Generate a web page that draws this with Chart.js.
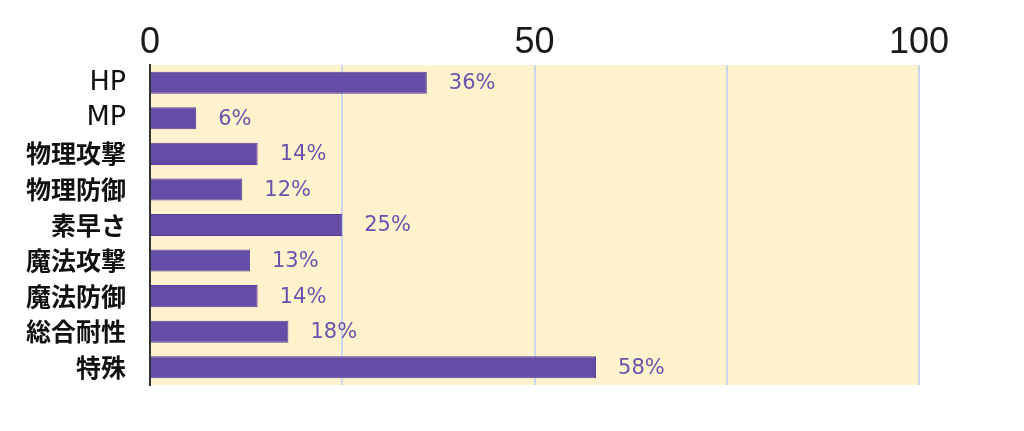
<!DOCTYPE html>
<html>
<head>
<meta charset="utf-8">
<script src="https://cdn.jsdelivr.net/npm/chart.js@4"></script>
<style>
  html, body { margin: 0; padding: 0; background: #ffffff; }
  #wrap { width: 1024px; height: 431px; }
</style>
</head>
<body>
<div id="wrap"><canvas id="myChart" width="1024" height="431"></canvas></div>
<script>
const categories = ['HP', 'MP', '物理攻撃', '物理防御', '素早さ', '魔法攻撃', '魔法防御', '総合耐性', '特殊'];
const percentValues = [36, 6, 14, 12, 25, 13, 14, 18, 58];
const tickLabels = ['0', '50', '100'];

// paint the cream plot background
const plotBg = {
  id: 'plotBg',
  beforeDraw(chart) {
    const a = chart.chartArea;
    const c = chart.ctx;
    c.save();
    c.fillStyle = '#fff2cc';
    c.fillRect(a.left, a.top, a.right - a.left, a.bottom - a.top);
    c.restore();
  }
};

// "36%" style labels after each bar
const valueLabels = {
  id: 'valueLabels',
  afterDatasetsDraw(chart) {
    const c = chart.ctx;
    const meta = chart.getDatasetMeta(0);
    c.save();
    c.font = '21px "DejaVu Sans", Verdana, sans-serif';
    c.fillStyle = '#6854ac';
    c.textAlign = 'left';
    c.textBaseline = 'middle';
    meta.data.forEach(function(bar, i) {
      c.fillText(percentValues[i] + '%', bar.x + 22, bar.y + 1);
    });
    c.restore();
  }
};

const ctx = document.getElementById('myChart');
const myChart = new Chart(ctx, {
  type: 'bar',
  data: {
    labels: categories,
    datasets: [{
      data: percentValues,
      backgroundColor: '#654ca6',
      borderColor: '#58409a',
      borderWidth: 1,
      barPercentage: 0.62,
      categoryPercentage: 1
    }]
  },
  options: {
    indexAxis: 'y',
    responsive: false,
    animation: false,
    layout: { padding: { left: 0, right: 105, top: 0, bottom: 46 } },
    plugins: { legend: { display: false }, tooltip: { enabled: false } },
    scales: {
      x: {
        position: 'top',
        min: 0,
        max: 100,
        afterFit(scale) { scale.height = 65; },
        ticks: {
          stepSize: 25,
          padding: 0,
          color: '#1a1a1a',
          font: { size: 36, family: '"Liberation Sans", Arial, sans-serif' },
          callback: function(v) {
            const s = String(v);
            return tickLabels.indexOf(s) >= 0 ? s : '';
          }
        },
        grid: { color: '#c9d8ec', lineWidth: 2, drawTicks: false },
        border: { display: false }
      },
      y: {
        afterFit(scale) { scale.width = 150; },
        ticks: {
          padding: 24,
          color: '#111111',
          font: function(c) {
            const latin = /^[A-Z]+$/.test(categories[c.index] || '');
            return {
              size: latin ? 27 : 25,
              weight: latin ? 'normal' : 'bold',
              family: latin ? '"DejaVu Sans", Verdana, sans-serif' : '"Noto Sans CJK JP", sans-serif'
            };
          }
        },
        grid: { display: false, drawTicks: false },
        border: { display: true, color: '#333333', width: 2 }
      }
    }
  },
  plugins: [plotBg, valueLabels]
});
</script>
</body>
</html>
